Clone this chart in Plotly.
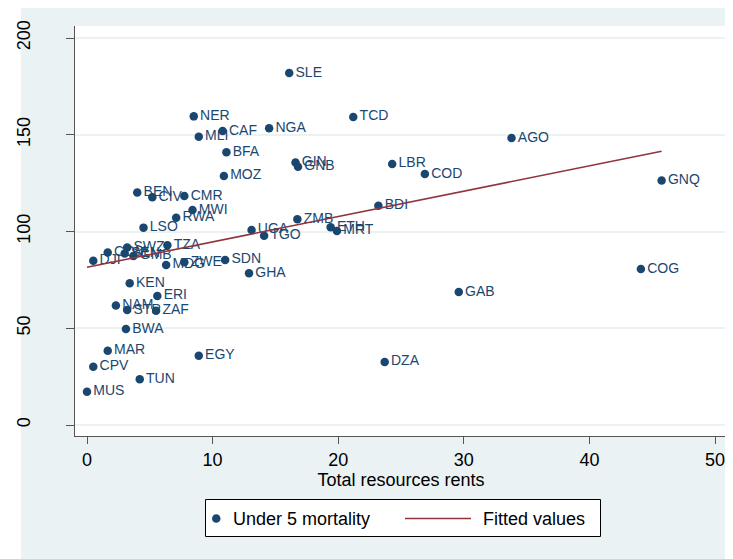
import plotly.graph_objects as go

# ---- data ----
countries = ["SLE", "TCD", "NER", "CAF", "MLI", "NGA", "BFA", "GIN", "GNB", "LBR",
             "AGO", "COD", "GNQ", "COG", "MOZ", "BEN", "CIV", "CMR", "MWI", "RWA",
             "LSO", "UGA", "TGO", "ZMB", "ETH", "MRT", "BDI", "SWZ", "TZA", "COM",
             "SEN", "GMB", "DJI", "MDG", "ZWE", "SDN", "GHA", "KEN", "ERI", "NAM",
             "STP", "ZAF", "BWA", "MAR", "EGY", "CPV", "TUN", "MUS", "DZA", "GAB"]
rents = [16.1, 21.2, 8.5, 10.8, 8.9, 14.5, 11.1, 16.6, 16.8, 24.3,
         33.8, 26.9, 45.75, 44.1, 10.9, 4.0, 5.2, 7.75, 8.4, 7.1,
         4.5, 13.1, 14.1, 16.75, 19.4, 19.9, 23.2, 3.2, 6.4, 1.65,
         3.0, 3.7, 0.5, 6.3, 7.75, 11.0, 12.9, 3.4, 5.6, 2.3,
         3.2, 5.5, 3.1, 1.65, 8.9, 0.5, 4.2, 0.0, 23.7, 29.6]
u5mort = [181.9, 159.2, 159.5, 151.9, 149.0, 153.3, 141.0, 135.6, 133.5, 134.9,
          148.3, 129.7, 126.3, 80.6, 128.7, 120.1, 117.7, 118.3, 111.1, 107.1,
          102.0, 100.8, 97.8, 106.3, 102.2, 100.3, 113.3, 91.7, 92.9, 89.1,
          88.6, 87.4, 84.9, 82.7, 84.1, 85.3, 78.4, 73.2, 66.7, 61.7,
          59.4, 59.1, 49.6, 38.4, 35.8, 30.1, 23.6, 17.2, 32.6, 68.7]
fit_x = [0.0, 45.75]
fit_y = [81.5, 141.5]

x_ticks = [0, 10, 20, 30, 40, 50]
y_ticks = [0, 50, 100, 150, 200]
legend_labels = ["Under 5 mortality", "Fitted values"]

NAVY = "#1A476F"
MAROON = "#90353B"
PANEL = "#EAF2F3"
FONT = "Liberation Sans"

fig = go.Figure()
fig.add_trace(go.Scatter(
    x=rents, y=u5mort, text=countries, mode="markers+text",
    textposition="middle right",
    textfont=dict(family=FONT, size=14, color=NAVY),
    marker=dict(color=NAVY, size=8.5, line=dict(width=0)),
    name=legend_labels[0], cliponaxis=False, showlegend=False))
fig.add_trace(go.Scatter(
    x=fit_x, y=fit_y, mode="lines",
    line=dict(color=MAROON, width=1.6),
    name=legend_labels[1], showlegend=False))

OFF = 8  # page body margin
W, H = 733 - OFF, 559 - OFF
L = 75 - OFF
T = 26 - OFF
PLOT_R = 727 - OFF
PLOT_B = 436 - OFF
R = W - PLOT_R
B = H - PLOT_B
pw, ph = W - L - R, H - T - B
X0PX = 87 - OFF      # pixel of x = 0
Y0PX = 425 - OFF     # pixel of y = 0
XU, YU = 12.56, 1.935


def px2x(p):
    return (p - OFF - L) / pw


def px2y(p):
    return (PLOT_B - (p - OFF)) / ph


# legend box drawn by hand (Stata style)
LEG_Y = 518.5
shapes = [
    dict(type="rect", xref="paper", yref="paper", x0=px2x(21), x1=px2x(745),
         y0=px2y(570), y1=px2y(6), fillcolor=PANEL, line=dict(width=0), layer="below"),
    dict(type="rect", xref="paper", yref="paper", x0=0, x1=1, y0=0, y1=1,
         fillcolor="white", line=dict(width=0), layer="below"),
    dict(type="rect", xref="paper", yref="paper", x0=px2x(205.5), x1=px2x(600.5),
         y0=px2y(536.5), y1=px2y(499.5), fillcolor="white",
         line=dict(color="black", width=1)),
    dict(type="circle", xref="paper", yref="paper", x0=px2x(212), x1=px2x(220.5),
         y0=px2y(LEG_Y + 4.25), y1=px2y(LEG_Y - 4.25), fillcolor=NAVY, line=dict(width=0)),
    dict(type="line", xref="paper", yref="paper", x0=px2x(405), x1=px2x(471),
         y0=px2y(LEG_Y), y1=px2y(LEG_Y), line=dict(color=MAROON, width=1.6)),
]
annotations = [
    dict(text=legend_labels[0], xref="paper", yref="paper", x=px2x(231), y=px2y(LEG_Y),
         xanchor="left", yanchor="middle", showarrow=False,
         font=dict(family=FONT, size=18, color="black")),
    dict(text=legend_labels[1], xref="paper", yref="paper", x=px2x(481), y=px2y(LEG_Y),
         xanchor="left", yanchor="middle", showarrow=False,
         font=dict(family=FONT, size=18, color="black")),
]

fig.update_layout(
    width=W, height=H,
    margin=dict(l=L, r=R, t=T, b=B, autoexpand=False),
    paper_bgcolor="white", plot_bgcolor="white",
    font=dict(family=FONT, size=18, color="black"),
    showlegend=False,
    shapes=shapes, annotations=annotations,
)
fig.update_xaxes(
    range=[-(X0PX - L) / XU, -(X0PX - L) / XU + pw / XU],
    tickvals=x_ticks, ticks="outside", ticklen=7, tickcolor="#555555",
    showline=True, linecolor="#555555", linewidth=1.2, showgrid=False, zeroline=False,
    tickfont=dict(size=18),
    title=dict(text="Total resources rents", font=dict(size=18), standoff=0),
)
fig.update_yaxes(
    range=[-(PLOT_B - Y0PX) / YU, -(PLOT_B - Y0PX) / YU + ph / YU],
    tickvals=y_ticks, ticks="outside", ticklen=8, tickcolor="#555555",
    showline=True, linecolor="#555555", linewidth=1.2,
    showgrid=True, gridcolor=PANEL, gridwidth=1.5, zeroline=False,
    tickangle=-90, tickfont=dict(size=18), ticklabelstandoff=29,
)

fig.write_html("out.html")
